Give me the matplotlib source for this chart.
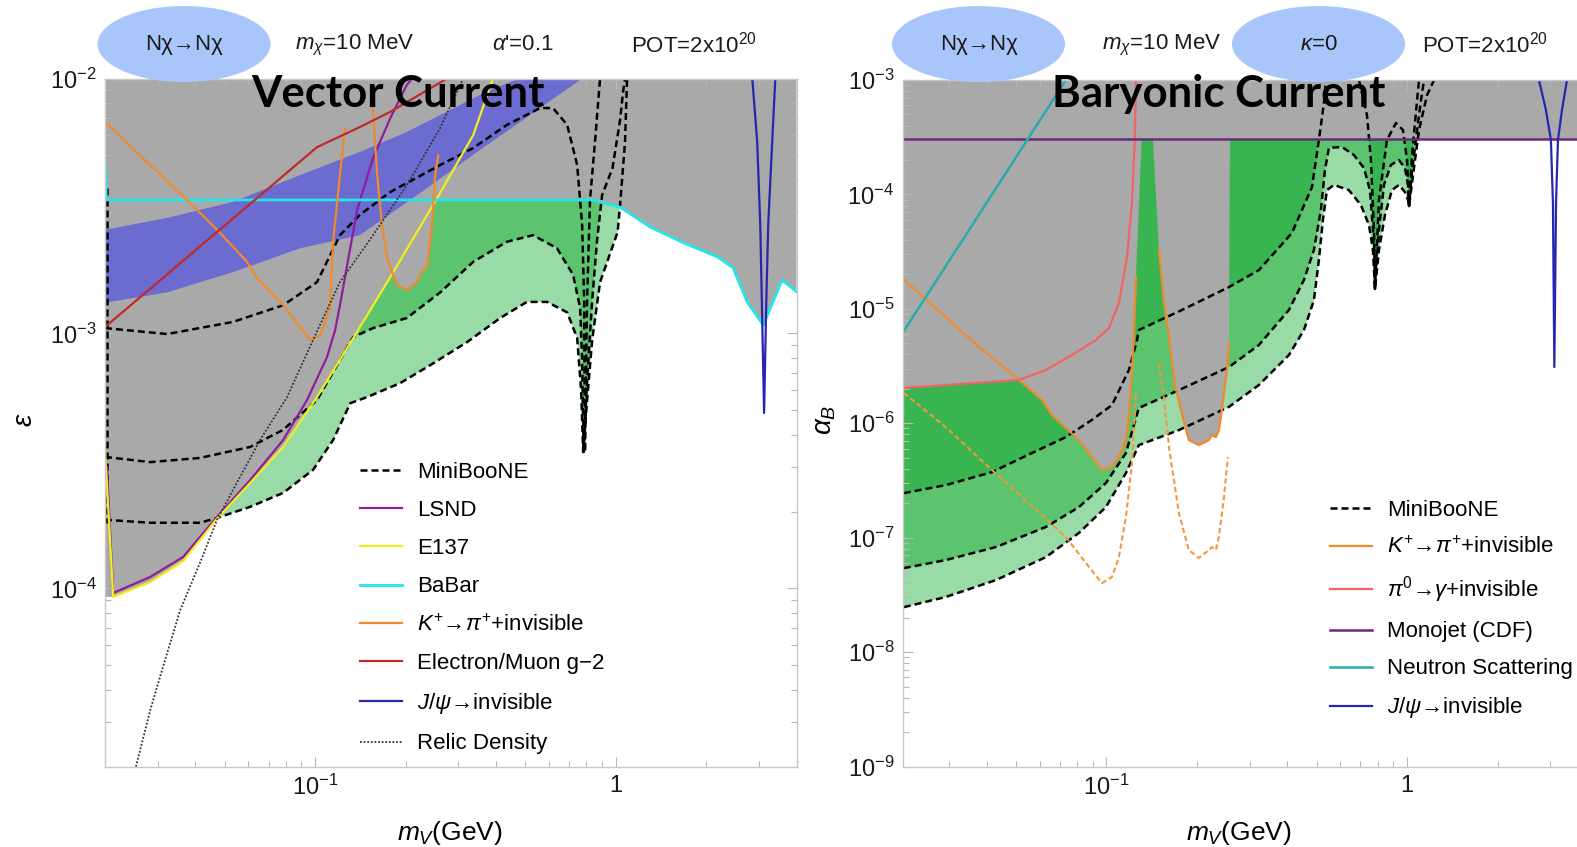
import matplotlib
matplotlib.use('Agg')
import numpy as np
import matplotlib.pyplot as plt
from matplotlib.patches import Ellipse
from matplotlib.ticker import LogLocator, NullFormatter

plt.rcParams['font.family'] = ['Liberation Sans', 'DejaVu Sans']
plt.rcParams['mathtext.fontset'] = 'custom'
plt.rcParams['mathtext.rm'] = 'Liberation Sans'
plt.rcParams['mathtext.it'] = 'Liberation Sans:italic'
plt.rcParams['mathtext.bf'] = 'Liberation Sans:bold'

GRAY = '#a9a9a9'
GREEN_LIGHT = '#98dba6'
GREEN_MID = '#5cc46f'
GREEN_DARK = '#38b550'
BAND = '#6b6bd0'
ELLIPSE = '#a9c6fa'
DASH = (0, (2.8, 1.6))

# ---------------- vector current (left panel) ----------------
vec_xlim = (0.02, 4.0)
vec_ylim = (2e-5, 1e-2)

mb_top_x = [0.0200, 0.0322, 0.0533, 0.0783, 0.1015, 0.121, 0.141, 0.178, 0.261, 0.336, 0.435, 0.561,
            0.619, 0.690, 0.745, 0.774, 0.786, 0.791, 0.804, 0.822, 0.855, 0.888]
mb_top_y = [1.05e-3, 9.95e-4, 1.11e-3, 1.29e-3, 1.59e-3, 2.43e-3, 2.92e-3, 3.59e-3, 4.58e-3, 5.34e-3, 6.58e-3, 7.66e-3,
            7.66e-3, 6.58e-3, 4.58e-3, 2.66e-3, 1.35e-3, 3.43e-4, 1.35e-3, 3.34e-3, 5.74e-3, 1.0e-2]
mb_mid_x = [0.0200, 0.0283, 0.0414, 0.0608, 0.0783, 0.1015, 0.134, 0.156, 0.202, 0.261, 0.336, 0.435, 0.531,
            0.638, 0.722, 0.762, 0.774, 0.783, 0.804, 0.836, 0.868, 0.902, 0.977, 1.035, 1.059, 1.075]
mb_mid_y = [3.28e-4, 3.13e-4, 3.25e-4, 3.59e-4, 4.19e-4, 5.48e-4, 9.68e-4, 1.05e-3, 1.15e-3, 1.45e-3, 1.91e-3, 2.29e-3, 2.43e-3,
            2.16e-3, 1.70e-3, 1.26e-3, 7.87e-4, 3.43e-4, 6.58e-4, 1.35e-3, 2.33e-3, 3.49e-3, 4.46e-3, 6.87e-3, 8.85e-3, 1.0e-2]
mb_bot_x = [0.0200, 0.0283, 0.0414, 0.0472, 0.0608, 0.0783, 0.0985, 0.1148, 0.131, 0.149, 0.192, 0.242, 0.321,
            0.413, 0.507, 0.592, 0.690, 0.745, 0.768, 0.780, 0.804, 0.836, 0.888, 1.016, 1.035, 1.075, 1.092]
mb_bot_y = [1.86e-4, 1.81e-4, 1.81e-4, 1.89e-4, 2.09e-4, 2.37e-4, 2.92e-4, 3.82e-4, 5.33e-4, 5.63e-4, 6.39e-4, 7.52e-4, 9.26e-4,
            1.15e-3, 1.33e-3, 1.33e-3, 1.21e-3, 9.6e-4, 6.0e-4, 3.43e-4, 5.48e-4, 9.44e-4, 1.59e-3, 2.5e-3, 3.19e-3, 5.64e-3, 1.0e-2]
mb_edge_x = [0.0203, 0.0203]
mb_edge_y = [3.73e-3, 1.81e-4]

lsnd_x = [0.0203, 0.0213, 0.0283, 0.0364, 0.0472, 0.0608, 0.0783, 0.094, 0.1096, 0.1166, 0.121, 0.1288,
          0.138, 0.156, 0.178, 0.202, 0.2104]
lsnd_y = [2.99e-4, 9.6e-5, 1.11e-4, 1.33e-4, 1.91e-4, 2.66e-4, 3.82e-4, 5.48e-4, 8.09e-4, 1.03e-3, 1.29e-3, 1.94e-3,
          3.05e-3, 4.88e-3, 7.0e-3, 9.44e-3, 1.0e-2]
e137_x = [0.0200, 0.0213, 0.0283, 0.0364, 0.0472, 0.0608, 0.0783, 0.1015, 0.136, 0.182, 0.255, 0.336, 0.391]
e137_y = [3.49e-4, 9.27e-5, 1.06e-4, 1.28e-4, 1.88e-4, 2.59e-4, 3.59e-4, 5.63e-4, 9.86e-4, 1.74e-3, 3.40e-3, 6.0e-3, 1.0e-2]
babar_x = [0.0201, 0.0202, 0.85, 0.888, 1.035, 1.30, 1.68, 2.18, 2.46, 2.74, 3.10, 3.34, 3.58, 4.0]
babar_y = [4.5e-3, 3.34e-3, 3.34e-3, 3.28e-3, 3.13e-3, 2.62e-3, 2.27e-3, 2.00e-3, 1.81e-3, 1.33e-3, 1.08e-3, 1.33e-3, 1.62e-3, 1.46e-3]
kp1_x = [0.0200, 0.0375, 0.0472, 0.0594, 0.0641, 0.0783, 0.0962, 0.104, 0.112, 0.1148, 0.121, 0.126]
kp1_y = [6.75e-3, 3.34e-3, 2.55e-3, 1.91e-3, 1.65e-3, 1.29e-3, 9.44e-4, 9.86e-4, 1.26e-3, 2.29e-3, 4.18e-3, 6.4e-3]
kp2_x = [0.155, 0.161, 0.167, 0.175, 0.1875, 0.202, 0.2185, 0.227, 0.236, 0.245, 0.251, 0.257]
kp2_y = [8.23e-3, 4.18e-3, 2.66e-3, 1.91e-3, 1.55e-3, 1.48e-3, 1.59e-3, 1.77e-3, 1.82e-3, 2.66e-3, 4.18e-3, 5.0e-3]
g2_x = [0.0200, 0.1015, 0.141, 0.178, 0.275]
g2_y = [1.06e-3, 5.38e-3, 6.45e-3, 7.4e-3, 1.0e-2]
jpsi_v_x = [2.85, 2.96, 3.03, 3.07, 3.12, 3.17, 3.22, 3.32, 3.40]
jpsi_v_y = [1.0e-2, 5.64e-3, 2.66e-3, 1.26e-3, 4.88e-4, 1.26e-3, 2.66e-3, 5.64e-3, 1.0e-2]
relic_x = [0.02535, 0.0283, 0.0317, 0.0356, 0.0414, 0.0472, 0.0533, 0.0656, 0.0807, 0.0985, 0.121, 0.156,
           0.202, 0.261, 0.311]
relic_y = [2.0e-5, 3.34e-5, 5.25e-5, 8.24e-5, 1.26e-4, 1.86e-4, 2.43e-4, 3.82e-4, 5.63e-4, 9.44e-4, 1.59e-3, 2.43e-3,
           3.82e-3, 6.4e-3, 1.0e-2]
# g-2 favoured band
band_up_x = [0.0200, 0.0322, 0.0533, 0.0892, 0.141, 0.202, 0.261, 0.382, 0.481]
band_up_y = [2.55e-3, 2.84e-3, 3.28e-3, 4.18e-3, 5.15e-3, 6.17e-3, 7.19e-3, 9.02e-3, 1.0e-2]
band_lo_x = [0.0200, 0.0322, 0.0533, 0.0892, 0.141, 0.224, 0.354, 0.519, 0.762, 0.78]
band_lo_y = [1.32e-3, 1.45e-3, 1.74e-3, 2.16e-3, 2.43e-3, 3.56e-3, 5.25e-3, 7.19e-3, 9.87e-3, 1.0e-2]

# ---------------- baryonic current (right panel) ----------------
bar_xlim = (0.021, 4.0)
bar_ylim = (1e-9, 1e-3)

mbr_top_a_x = [0.0212, 0.0292, 0.0416, 0.0565, 0.0733, 0.0895, 0.1043, 0.1188, 0.1264, 0.1282, 0.1783, 0.2556,
               0.3215, 0.4141, 0.4828, 0.509, 0.529, 0.5372]
mbr_top_a_y = [2.45e-7, 2.88e-7, 3.74e-7, 5.49e-7, 7.57e-7, 1.07e-6, 1.44e-6, 2.92e-6, 5.34e-6, 6.53e-6, 9.77e-6, 1.55e-5,
               2.18e-5, 4.60e-5, 1.16e-4, 2.99e-4, 6.29e-4, 1.0e-3]
mbr_top_b_x = [0.6918, 0.7356, 0.7585, 0.7762, 0.7821, 0.8064, 0.8574, 0.9185, 0.9691, 1.0, 1.0155, 1.039, 1.080, 1.096]
mbr_top_b_y = [1.0e-3, 4.94e-4, 2.0e-4, 4.89e-5, 1.49e-5, 8.93e-5, 2.99e-4, 4.21e-4, 3.66e-4, 2.0e-4, 7.92e-5, 2.21e-4,
               6.69e-4, 1.0e-3]
mbr_mid_x = [0.0212, 0.0292, 0.0429, 0.0629, 0.0810, 0.0996, 0.1161, 0.1282, 0.1743, 0.2556, 0.3215, 0.4047, 0.454,
             0.490, 0.517, 0.5331, 0.5497, 0.6072, 0.6656, 0.7188, 0.7527, 0.7702, 0.7821, 0.8064, 0.838, 0.884,
             0.9397, 0.984, 1.0077, 1.0155, 1.039, 1.080, 1.113, 1.139]
mbr_mid_y = [5.42e-8, 6.37e-8, 8.28e-8, 1.24e-7, 1.85e-7, 3.0e-7, 5.49e-7, 1.36e-6, 1.95e-6, 3.10e-6, 4.83e-6, 9.77e-6, 1.79e-5,
             3.27e-5, 7.31e-5, 1.63e-4, 2.55e-4, 2.60e-4, 2.21e-4, 1.70e-4, 1.09e-4, 4.89e-5, 1.49e-5, 4.89e-5, 1.21e-4, 1.81e-4,
             2.0e-4, 1.70e-4, 1.21e-4, 7.92e-5, 1.63e-4, 3.66e-4, 6.69e-4, 1.0e-3]
mbr_bot_x = [0.0212, 0.0292, 0.0429, 0.0629, 0.0810, 0.0996, 0.1161, 0.1282, 0.1743, 0.2556, 0.3215, 0.4047, 0.454,
             0.490, 0.509, 0.5249, 0.5414, 0.5712, 0.6406, 0.7025, 0.747, 0.7702, 0.7821, 0.8064, 0.8444, 0.8908,
             0.9397, 0.984, 1.0077, 1.0155, 1.047, 1.096, 1.166, 1.230]
mbr_bot_y = [2.47e-8, 3.03e-8, 4.26e-8, 6.76e-8, 1.10e-7, 1.85e-7, 3.67e-7, 6.44e-7, 8.72e-7, 1.39e-6, 2.16e-6, 3.95e-6, 6.53e-6,
             1.19e-5, 2.67e-5, 5.97e-5, 1.09e-4, 1.21e-4, 1.09e-4, 8.07e-5, 5.40e-5, 3.27e-5, 1.49e-5, 3.27e-5, 6.61e-5, 1.09e-4,
             1.21e-4, 1.05e-4, 8.93e-5, 7.92e-5, 1.48e-4, 3.66e-4, 7.40e-4, 1.0e-3]
mono_x = [0.021, 4.0]
mono_y = [3.05e-4, 3.05e-4]
neutron_x = [0.02094, 0.0733]
neutron_y = [6.1e-6, 1.0e-3]
pi0_x = [0.0209, 0.0292, 0.0512, 0.0629, 0.0768, 0.0922, 0.1019, 0.110, 0.117, 0.1216, 0.1244, 0.1254]
pi0_y = [2.03e-6, 2.16e-6, 2.39e-6, 2.92e-6, 3.95e-6, 5.33e-6, 6.79e-6, 1.12e-5, 2.84e-5, 8.41e-5, 3.18e-4, 1.0e-3]
kpr1_x = [0.0209, 0.0292, 0.0377, 0.0512, 0.061, 0.0659, 0.081, 0.0895, 0.0966, 0.1043, 0.110, 0.1161, 0.1189,
          0.1216, 0.1234, 0.1254]
kpr1_y = [1.86e-5, 8.47e-6, 4.63e-6, 2.39e-6, 1.6e-6, 1.18e-6, 7.13e-7, 5.07e-7, 3.9e-7, 4.14e-7, 5.07e-7, 7.13e-7, 1.23e-6,
          2.92e-6, 5.66e-6, 1.9e-5]
kpr2_x = [0.1496, 0.1552, 0.1615, 0.169, 0.178, 0.188, 0.203, 0.2193, 0.2244, 0.2313, 0.2366, 0.242, 0.2517, 0.2556]
kpr2_y = [3.27e-5, 1.19e-5, 5.66e-6, 2.16e-6, 1.23e-6, 7.13e-7, 6.45e-7, 7.13e-7, 7.88e-7, 7.57e-7, 8.71e-7, 1.30e-6,
          2.92e-6, 5.02e-6]
# edges of the K+ excluded regions where they meet the monojet limit
kpr1_edge = 0.131
kpr2_edges = (0.1428, 0.2576)
kpd1_x = [0.0212, 0.0292, 0.0416, 0.0596, 0.0733, 0.0855, 0.0966, 0.1043, 0.110, 0.1161, 0.1216, 0.1254]
kpd1_y = [1.84e-6, 9.27e-7, 3.9e-7, 1.67e-7, 1.01e-7, 6.0e-8, 4.01e-8, 4.53e-8, 6.76e-8, 1.51e-7, 4.49e-7, 1.84e-6]
kpd2_x = [0.1496, 0.1552, 0.1615, 0.1742, 0.188, 0.203, 0.2193, 0.2244, 0.2313, 0.2366, 0.246, 0.2536]
kpd2_y = [3.36e-6, 1.69e-6, 6.19e-7, 1.64e-7, 7.8e-8, 6.64e-8, 7.8e-8, 8.28e-8, 7.8e-8, 1.01e-7, 2.26e-7, 5.07e-7]
jpsi_b_x = [2.747, 2.897, 3.01, 3.057, 3.09, 3.13, 3.177, 3.276, 3.404]
jpsi_b_y = [1.0e-3, 5.47e-4, 2.99e-4, 8.41e-5, 3.1e-6, 8.41e-5, 2.99e-4, 5.47e-4, 1.0e-3]


def fill_above(ax, x, y, top, color):
    ax.fill(list(x) + [x[-1], x[0]], list(y) + [top, top], color=color, lw=0, zorder=1)


def style_axes(ax, xlim, ylim, yticks):
    ax.set_xscale('log')
    ax.set_yscale('log')
    ax.set_xlim(*xlim)
    ax.set_ylim(*ylim)
    ax.set_xticks([0.1, 1])
    ax.set_xticklabels([r'$10^{-1}$', '1'])
    ax.set_yticks(yticks)
    ax.set_yticklabels([r'$10^{%d}$' % round(np.log10(t)) for t in yticks])
    ax.xaxis.set_minor_locator(LogLocator(base=10, subs=np.arange(2, 10), numticks=30))
    ax.yaxis.set_minor_locator(LogLocator(base=10, subs=np.arange(2, 10), numticks=30))
    ax.xaxis.set_minor_formatter(NullFormatter())
    ax.yaxis.set_minor_formatter(NullFormatter())
    ax.tick_params(which='both', direction='in', top=True, right=True, color='#b8b8b8',
                   labelcolor='#1a1a1a', labelsize=17, width=0.8)
    ax.tick_params(which='major', length=7, pad=6)
    ax.tick_params(which='minor', length=4)
    for s in ax.spines.values():
        s.set_color('#c8c8c8')
        s.set_linewidth(1.0)
        s.set_zorder(4)


def draw_vector(fig):
    ax = fig.add_axes([0.06658, 0.09481, 0.4385, 0.8125])
    top = vec_ylim[1]
    fill_above(ax, mb_bot_x, mb_bot_y, top, GREEN_LIGHT)
    fill_above(ax, mb_mid_x, mb_mid_y, top, GREEN_MID)
    fill_above(ax, babar_x, babar_y, top, GRAY)
    ax.fill([e137_x[0]] + e137_x[1:] + [e137_x[-1], e137_x[0]],
            [e137_y[1]] + e137_y[1:] + [top, top], color=GRAY, lw=0, zorder=1)
    ax.fill(kp2_x, kp2_y, color=GRAY, lw=0, zorder=1)
    ax.fill(band_up_x + band_lo_x[::-1], band_up_y + band_lo_y[::-1], color=BAND, lw=0, zorder=2)

    h_mb, = ax.plot(mb_top_x, mb_top_y, color='black', lw=1.8, ls=DASH, zorder=3, label='MiniBooNE')
    for x, y in [(mb_mid_x, mb_mid_y), (mb_bot_x, mb_bot_y), (mb_edge_x, mb_edge_y)]:
        ax.plot(x, y, color='black', lw=1.8, ls=DASH, zorder=3)
    h_lsnd, = ax.plot(lsnd_x, lsnd_y, color='#8e1e9c', lw=1.6, zorder=3, label='LSND')
    h_e137, = ax.plot(e137_x, e137_y, color='#f0ee1e', lw=1.6, zorder=3, label='E137')
    h_babar, = ax.plot(babar_x, babar_y, color='#22e6ea', lw=2.0, zorder=3, label='BaBar')
    h_kp, = ax.plot(kp1_x, kp1_y, color='#f08a2c', lw=1.6, zorder=3,
                    label=r'$K^{+}$→$\pi^{+}$+invisible')
    ax.plot(kp2_x, kp2_y, color='#f08a2c', lw=1.6, zorder=3)
    h_g2, = ax.plot(g2_x, g2_y, color='#c02a2a', lw=1.6, zorder=3, label='Electron/Muon g−2')
    h_jpsi, = ax.plot(jpsi_v_x, jpsi_v_y, color='#2626b0', lw=1.6, zorder=3, label=r'$J/\psi$→invisible')
    h_relic, = ax.plot(relic_x, relic_y, color='#333333', lw=1.3, ls=(0, (1, 1)), zorder=3, label='Relic Density')

    style_axes(ax, vec_xlim, vec_ylim, [1e-4, 1e-3, 1e-2])
    ax.legend(handles=[h_mb, h_lsnd, h_e137, h_babar, h_kp, h_g2, h_jpsi, h_relic],
              loc='upper left', bbox_to_anchor=(0.2283, 0.4545), bbox_transform=fig.transFigure,
              frameon=False, fontsize=16, handlelength=1.9, handletextpad=0.68, labelspacing=0.77,
              borderpad=0, borderaxespad=0)
    return ax


def draw_baryonic(fig):
    ax = fig.add_axes([0.5724, 0.09504, 0.4346, 0.8105])
    top = bar_ylim[1]
    fill_above(ax, mbr_bot_x, mbr_bot_y, top, GREEN_LIGHT)
    fill_above(ax, mbr_mid_x, mbr_mid_y, top, GREEN_MID)
    fill_above(ax, mbr_top_a_x, mbr_top_a_y, top, GREEN_DARK)
    fill_above(ax, mbr_top_b_x, mbr_top_b_y, top, GREEN_DARK)
    ax.fill_between(mono_x, mono_y, top, color=GRAY, lw=0, zorder=1)
    fill_above(ax, pi0_x, pi0_y, top, GRAY)
    ax.fill(kpr1_x + [kpr1_edge, kpr1_edge, kpr1_x[0]], kpr1_y + [mono_y[0], top, top],
            color=GRAY, lw=0, zorder=1)
    ax.fill([kpr2_edges[0]] + kpr2_x + [kpr2_edges[1]], [mono_y[0]] + kpr2_y + [mono_y[0]],
            color=GRAY, lw=0, zorder=1)

    h_mb, = ax.plot(mbr_top_a_x, mbr_top_a_y, color='black', lw=1.8, ls=DASH, zorder=3, label='MiniBooNE')
    for x, y in [(mbr_top_b_x, mbr_top_b_y), (mbr_mid_x, mbr_mid_y), (mbr_bot_x, mbr_bot_y)]:
        ax.plot(x, y, color='black', lw=1.8, ls=DASH, zorder=3)
    h_kp, = ax.plot(kpr1_x, kpr1_y, color='#f08a2c', lw=1.6, zorder=3,
                    label=r'$K^{+}$→$\pi^{+}$+invisible')
    ax.plot(kpr2_x, kpr2_y, color='#f08a2c', lw=1.6, zorder=3)
    ax.plot(kpd1_x, kpd1_y, color='#f5963c', lw=1.5, ls=(0, (2.5, 1.5)), zorder=3)
    ax.plot(kpd2_x, kpd2_y, color='#f5963c', lw=1.5, ls=(0, (2.5, 1.5)), zorder=3)
    h_pi0, = ax.plot(pi0_x, pi0_y, color='#f26464', lw=1.6, zorder=3, label=r'$\pi^{0}$→$\gamma$+invisible')
    h_mono, = ax.plot(mono_x, mono_y, color='#6a2a78', lw=1.8, zorder=3, label='Monojet (CDF)')
    h_neu, = ax.plot(neutron_x, neutron_y, color='#2aacac', lw=1.8, zorder=3, label='Neutron Scattering')
    h_jpsi, = ax.plot(jpsi_b_x, jpsi_b_y, color='#2626b0', lw=1.6, zorder=3, label=r'$J/\psi$→invisible')

    style_axes(ax, bar_xlim, bar_ylim, [1e-9, 1e-8, 1e-7, 1e-6, 1e-5, 1e-4, 1e-3])
    ax.legend(handles=[h_mb, h_kp, h_pi0, h_mono, h_neu, h_jpsi],
              loc='upper left', bbox_to_anchor=(0.8434, 0.4097), bbox_transform=fig.transFigure,
              frameon=False, fontsize=16, handlelength=1.9, handletextpad=0.68, labelspacing=0.72,
              borderpad=0, borderaxespad=0)
    return ax


def header(fig):
    y = 0.9469
    for cx in [0.1167, 0.6205, 0.8361]:
        fig.add_artist(Ellipse((cx, 0.948), 0.1097, 0.0897, transform=fig.transFigure,
                               facecolor=ELLIPSE, edgecolor='none', zorder=5))
    items = [(0.1167, 'Nχ→Nχ'), (0.2251, r'$m_\chi$=10 MeV'), (0.3316, r"$\alpha$'=0.1"),
             (0.4401, r'POT=2x10$^{20}$'), (0.6205, 'Nχ→Nχ'), (0.7368, r'$m_\chi$=10 MeV'),
             (0.8361, r'$\kappa$=0'), (0.9417, r'POT=2x10$^{20}$')]
    for x, s in items:
        fig.text(x, y, s, fontsize=16, ha='center', va='center', color='#1a1a1a', zorder=6)
    fig.text(0.2524, 0.889, 'Vector Current', fontsize=31.5, fontweight='bold', family='Lato',
             ha='center', va='center', zorder=6)
    fig.text(0.773, 0.889, 'Baryonic Current', fontsize=31.5, fontweight='bold', family='Lato',
             ha='center', va='center', zorder=6)
    fig.text(0.2853, 0.0165, r'$m_V$(GeV)', fontsize=19, ha='center', va='center')
    fig.text(0.7857, 0.0165, r'$m_V$(GeV)', fontsize=19, ha='center', va='center')
    fig.text(0.0159, 0.504, r'$\varepsilon$', fontsize=20, rotation=90, ha='center', va='center')
    fig.text(0.5231, 0.504, r'$\alpha_B$', fontsize=20, rotation=90, ha='center', va='center')


fig = plt.figure(figsize=(15.77, 8.47), dpi=100)
draw_vector(fig)
draw_baryonic(fig)
header(fig)
fig.savefig('out.png', dpi=100)
plt.close(fig)
